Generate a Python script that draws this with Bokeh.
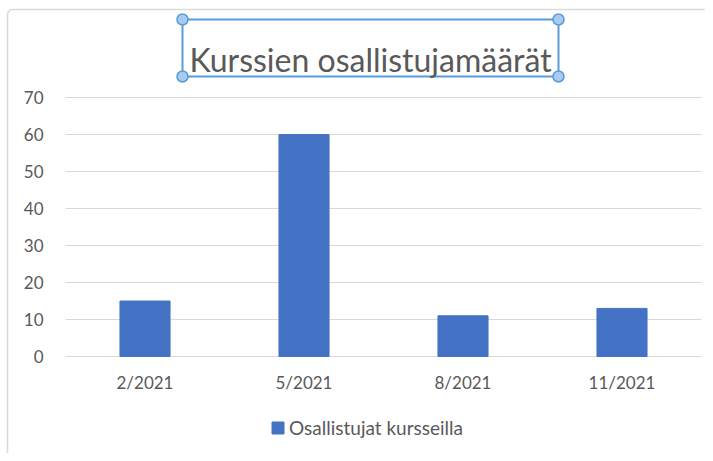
from bokeh.plotting import figure
from bokeh.models import (Range1d, FixedTicker, Legend, LegendItem,
                          BoxAnnotation, Label, ColumnDataSource)
from bokeh.embed import file_html
from bokeh.resources import INLINE

# ---- data ----
categories = ["2/2021", "5/2021", "8/2021", "11/2021"]
values = [15, 60, 11, 13]
y_ticks = [0, 10, 20, 30, 40, 50, 60, 70]
series_name = "Osallistujat kursseilla"
title_text = "Kurssien osallistujamäärät"

# ---- style / layout ----
TEXT = "#595959"
GRID = "#D9D9D9"
BAR = "#4472C4"
SEL = "#5B9BD5"
SEL_FILL = "#A8CBF2"
FONT = "Lato"

W, H = 705, 453
PLOT_L, PLOT_R = 65, 701            # plot area edges (px)
PX_PER_CAT = (PLOT_R - PLOT_L) / len(categories)
ZERO_Y, PX_PER_UNIT = 356, 3.7      # pixel row of value 0 and px per value unit

x_pos = list(range(len(categories)))
x_start = -0.5 - PLOT_L / PX_PER_CAT
x_end = -0.5 + (W - PLOT_L) / PX_PER_CAT
y_start = -(H - ZERO_Y) / PX_PER_UNIT
y_end = ZERO_Y / PX_PER_UNIT

def sy(py):  # pixel row (from top) -> screen y (from bottom)
    return H - py

p = figure(width=W, height=H,
           x_range=Range1d(x_start, x_end), y_range=Range1d(y_start, y_end),
           output_backend="svg", toolbar_location=None,
           min_border=0)
p.outline_line_color = None
p.background_fill_color = "white"
p.border_fill_color = "white"
p.xgrid.visible = False
p.ygrid.visible = False

src = ColumnDataSource(dict(x=x_pos, val=values))
r = p.vbar(x="x", top="val", width=0.315, source=src,
           fill_color=BAR, line_color=BAR)

# axes (drawn at fixed data positions inside the plot)
p.xaxis.fixed_location = 0
p.yaxis.fixed_location = -0.5
for ax in (p.xaxis[0], p.yaxis[0]):
    ax.axis_line_color = None
    ax.minor_tick_line_color = None
    ax.major_label_text_font = FONT
    ax.major_label_text_font_size = "17px"
    ax.major_label_text_color = TEXT
p.xaxis.major_tick_line_color = None
p.xaxis.ticker = FixedTicker(ticks=x_pos)
p.xaxis.major_label_overrides = {i: c for i, c in zip(x_pos, categories)}
p.xaxis.major_label_standoff = 9

# value axis: its inward ticks span the plot width and serve as gridlines
yax = p.yaxis[0]
yax.level = "underlay"
yax.ticker = FixedTicker(ticks=y_ticks)
yax.major_tick_out = 0
yax.major_tick_in = PLOT_R - PLOT_L
yax.major_tick_line_color = GRID
yax.major_tick_line_width = 1
yax.major_label_standoff = 22

# legend
legend = Legend(items=[LegendItem(label=series_name, renderers=[r])],
                location=(270, 14), orientation="horizontal",
                padding=0, margin=0, border_line_color=None,
                background_fill_alpha=0, glyph_width=15, glyph_height=15,
                label_standoff=4, label_text_font=FONT,
                label_text_font_size="19px", label_text_color=TEXT)
p.add_layout(legend)

SCREEN = dict(left_units="screen", right_units="screen",
              top_units="screen", bottom_units="screen")

# chart-area border
p.add_layout(BoxAnnotation(left=7, right=W + 40, top=sy(9), bottom=-40,
                           fill_alpha=0, line_color=GRID, line_alpha=1,
                           line_width=1.5, border_radius=5, **SCREEN))

# title with selection frame
p.add_layout(BoxAnnotation(left=182, right=558, top=sy(19), bottom=sy(76),
                           fill_alpha=0, line_color=SEL, line_alpha=1,
                           line_width=2, **SCREEN))
for (hx, hy) in [(182, 19), (558, 19), (182, 76), (558, 76)]:
    p.add_layout(BoxAnnotation(left=hx - 5.5, right=hx + 5.5,
                               top=sy(hy - 5.5), bottom=sy(hy + 5.5),
                               fill_color=SEL_FILL, fill_alpha=1,
                               line_color=SEL, line_alpha=1, line_width=1.5,
                               border_radius=6, **SCREEN))

p.add_layout(Label(x=370, y=sy(59), x_units="screen", y_units="screen",
                   text=title_text, text_align="center",
                   text_baseline="alphabetic", text_font=FONT,
                   text_font_size="32px", text_color=TEXT))

open("out.html", "w").write(file_html(p, INLINE))
